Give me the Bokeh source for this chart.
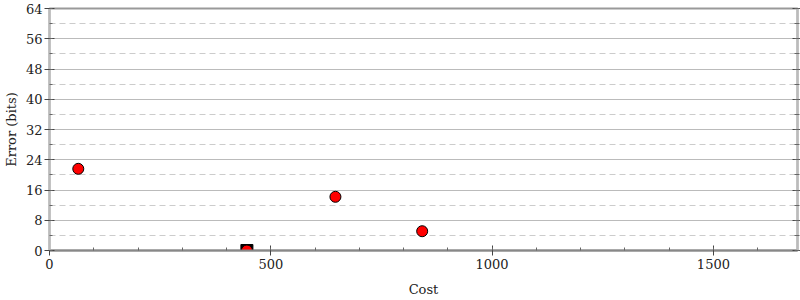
from bokeh.plotting import figure
from bokeh.models import LinearAxis, Range1d, SingleIntervalTicker, CustomJSTickFormatter
from bokeh.embed import file_html
from bokeh.resources import INLINE

# data
cost = [65, 646, 842, 446]
error = [21.6, 14.2, 5.1, 0.0]
best_cost = [446]
best_error = [0.0]

FONT = "DejaVu Serif"

p = figure(width=800, height=300, output_backend="svg", toolbar_location=None,
           x_range=Range1d(0, 1690), y_range=Range1d(0, 64),
           min_border_left=10, min_border_right=2, min_border_top=8, min_border_bottom=50)
p.background_fill_color = "white"
p.border_fill_color = "white"
p.outline_line_color = "#999999"
p.outline_line_width = 2

p.xaxis.ticker = SingleIntervalTicker(interval=500, num_minor_ticks=5)
p.yaxis.ticker = SingleIntervalTicker(interval=8, num_minor_ticks=2)

for ax in [p.xaxis[0], p.yaxis[0]]:
    ax.major_label_text_font = FONT
    ax.major_label_text_font_size = "13px"
    ax.major_label_text_color = "#222222"
    ax.axis_label_text_font = FONT
    ax.axis_label_text_font_size = "13px"
    ax.axis_label_text_font_style = "normal"
    ax.axis_label_text_color = "#222222"
    ax.major_tick_in = 5
    ax.major_tick_out = 5
    ax.minor_tick_in = 3
    ax.minor_tick_out = 0
    ax.major_tick_line_color = "#444444"
    ax.minor_tick_line_color = "#666666"
    ax.major_label_standoff = 2

p.xaxis.axis_label = "Cost"
p.yaxis.axis_label = "Error (bits)"
p.xaxis.axis_line_color = "#888888"
p.xaxis.axis_line_width = 2
p.yaxis.axis_line_color = "#bbbbbb"
p.yaxis.axis_line_width = 2
p.xaxis.major_label_standoff = 3
p.xaxis.axis_label_standoff = 10
p.yaxis.axis_label_standoff = 4

right = LinearAxis(ticker=SingleIntervalTicker(interval=8, num_minor_ticks=2),
                   formatter=CustomJSTickFormatter(code="return '';"))
right.major_tick_in = 5
right.major_tick_out = 3
right.minor_tick_in = 3
right.minor_tick_out = 2
right.axis_line_color = "#bbbbbb"
right.axis_line_width = 2
right.major_tick_line_color = "#444444"
right.minor_tick_line_color = "#666666"
right.major_label_standoff = 0
p.add_layout(right, "right")

p.xgrid.grid_line_color = None
p.ygrid.grid_line_color = "#bbbbbb"
p.ygrid.minor_grid_line_color = "#cccccc"
p.ygrid.minor_grid_line_dash = "6 4"

p.scatter(best_cost, best_error, marker="square", size=12, fill_color="black", line_color="black")
p.scatter(cost, error, marker="circle", size=11, fill_color="red", line_color="black", line_width=1)

open("out.html", "w").write(file_html(p, INLINE))
